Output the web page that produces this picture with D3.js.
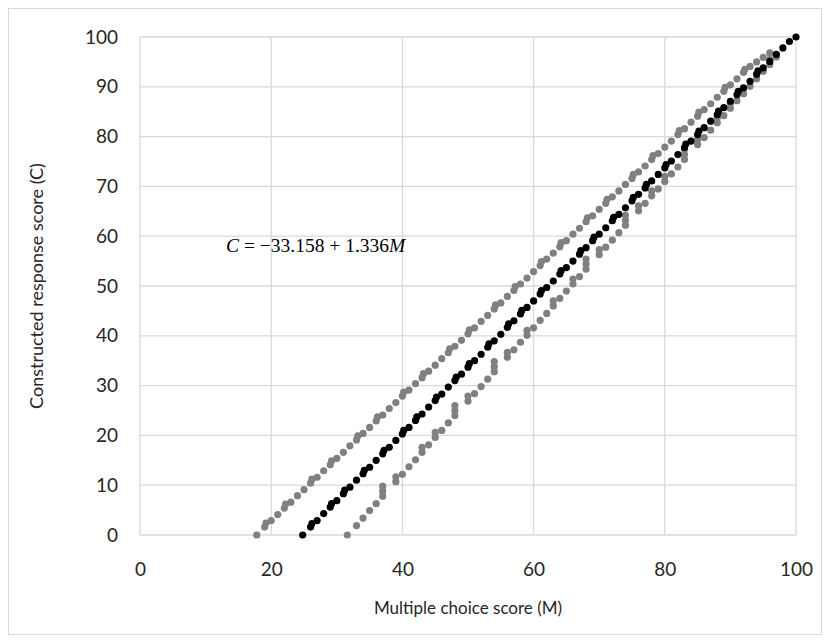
<!DOCTYPE html>
<html lang="en">
	<head>
		<meta charset="utf-8">
		<title>Constructed vs multiple choice score</title>
		<style>
			body { margin: 0; background: #fff; }
			.tick text { font: 19px Lato, "Open Sans", sans-serif; fill: #262626; }
			.lbl { font: 17px Lato, "Open Sans", sans-serif; fill: #262626; }
			.eq { font: 19.5px "Liberation Serif", "DejaVu Serif", serif; fill: #000; }
		</style>
	</head>
	<body>
		<svg class="chart"></svg>
		<script src="https://d3js.org/d3.v7.min.js"></script>
		<script>

			// tick labels
			var xTicks = [0, 20, 40, 60, 80, 100];
			var yTicks = [0, 10, 20, 30, 40, 50, 60, 70, 80, 90, 100];

			// middle (black) series: [M, C]
			var fitted = [[24.8,0],[26,1.6],[26.2,2.3],[27,2.9],[28,4.3],[29,5.6],[29.2,6.3],[30,6.9],[31,8.3],[31.2,9.0],
				[32,9.6],[33,11.0],[34,12.3],[34.2,13.0],[35,13.6],[36,15.0],[37,16.3],[37.2,17.0],[38,17.6],[39,19.0],
				[40,20.3],[40.2,21.0],[41,21.6],[42,23.0],[42.2,23.7],[43,24.3],[44,25.7],[45,27.0],[45.2,27.7],[46,28.3],
				[47,29.7],[48,31.0],[48.2,31.7],[49,32.3],[50,33.7],[50.2,34.4],[51,35.0],[52,36.3],[53,37.7],[53.2,38.4],
				[54,39.0],[55,40.3],[56,41.7],[56.2,42.4],[57,43.0],[58,44.4],[58.2,45.1],[59,45.7],[60,47.0],[61,48.4],
				[61.2,49.1],[62,49.7],[63,51.0],[64,52.4],[64.2,53.1],[65,53.7],[66,55.0],[67,56.4],[67.2,57.1],[68,57.7],
				[69,59.1],[69.2,59.8],[70,60.4],[71,61.7],[72,63.1],[72.2,63.8],[73,64.4],[74,65.7],[75,67.1],[75.2,67.8],
				[76,68.4],[77,69.7],[77.2,70.4],[78,71.1],[79,72.4],[80,73.7],[80.2,74.4],[81,75.1],[82,76.4],[83,77.8],
				[83.2,78.5],[84,79.1],[85,80.4],[85.2,81.1],[86,81.8],[87,83.1],[88,84.4],[88.2,85.1],[89,85.8],[90,87.1],
				[91,88.4],[91.2,89.1],[92,89.8],[93,91.1],[94,92.5],[94.2,93.2],[95,93.8],[96,95.1],[97,96.5],[98,97.8],
				[99,99.1],[100,100]];

			// upper (grey) band: [M, C]
			var upper = [[17.8,0],[19,1.6],[19.2,2.4],[20,2.9],[21,4.1],[22,5.4],[22.2,6.2],[23,6.6],[24,7.9],[25,9.1],
				[26,10.4],[26.2,11.2],[27,11.6],[28,12.9],[29,14.1],[29.2,14.9],[30,15.4],[31,16.6],[32,17.9],[33,19.1],
				[33.2,19.9],[34,20.4],[35,21.6],[36,22.9],[36.2,23.7],[37,24.1],[38,25.4],[39,26.6],[40,27.9],[40.2,28.7],
				[41,29.1],[42,30.4],[43,31.6],[43.2,32.4],[44,32.9],[45,34.1],[46,35.4],[47,36.6],[47.2,37.4],[48,37.9],
				[49,39.1],[50,40.4],[50.2,41.2],[51,41.6],[52,42.9],[53,44.1],[54,45.4],[54.2,46.2],[55,46.6],[56,47.9],
				[57,49.1],[57.2,49.9],[58,50.4],[59,51.6],[60,52.9],[61,54.1],[61.2,54.9],[62,55.4],[63,56.6],[64,57.9],
				[64.2,58.7],[65,59.1],[66,60.4],[67,61.6],[68,62.9],[68.2,63.7],[69,64.1],[70,65.4],[71,66.6],[71.2,67.4],
				[72,67.9],[73,69.1],[74,70.4],[75,71.6],[75.2,72.4],[76,72.9],[77,74.1],[78,75.4],[78.2,76.2],[79,76.6],
				[80,77.9],[81,79.1],[82,80.4],[82.2,81.2],[83,81.6],[84,82.9],[85,84.1],[85.2,84.9],[86,85.4],[87,86.6],
				[88,87.9],[89,89.1],[89.2,89.9],[90,90.4],[91,91.6],[92,92.9],[92.2,93.5],[93,94.1],[94,95.0],[95,95.9],
				[96,96.8]];

			// lower (grey) band: [M, C]
			var lower = [[31.6,0],[33,1.9],[34,3.4],[35,4.9],[36,6.3],[37,7.8],[37,8.8],[37,9.8],[39,10.7],[39,11.7],
				[40,12.2],[41,13.7],[42,15.1],[43,16.6],[43,17.6],[44,18.1],[45,19.6],[45,20.6],[46,21.0],[47,22.5],
				[48,24.0],[48,25.0],[48,26.0],[50,26.9],[50,27.9],[51,28.4],[52,29.8],[53,31.3],[54,32.8],[54,33.8],
				[54,34.8],[56,35.7],[56,36.7],[57,37.2],[58,38.7],[59,40.1],[59,41.1],[60,41.6],[61,43.1],[62,44.5],
				[63,46.0],[63,47.0],[64,47.5],[65,49.0],[66,50.4],[66,51.4],[67,51.9],[68,53.4],[68,54.4],[68,55.4],
				[70,56.3],[70,57.3],[71,57.8],[72,59.2],[73,60.7],[74,62.2],[74,63.2],[74,64.2],[76,65.1],[76,66.1],
				[77,66.6],[78,68.1],[78,69.1],[79,69.5],[80,71.0],[80,72.0],[81,72.5],[82,73.9],[83,75.4],[83,76.4],
				[83,77.4],[85,78.4],[85,79.4],[86,79.8],[87,81.3],[88,82.8],[88,83.8],[89,84.2],[90,85.7],[90,86.7],
				[91,87.2],[92,88.6],[92,89.6],[93,90.1],[94,91.6],[94,92.6],[95,93.1],[96,94.5],[96,95.5],[97,96.0]];

			var width = 830, height = 643;
			var margin = {left: 140, right: 34, top: 37, bottom: 108};

			var svg = d3.select(".chart").attr("width", width).attr("height", height);

			// outer chart border
			svg.append("rect")
				.attr("x", 8.5).attr("y", 8.5)
				.attr("width", width - 17).attr("height", height - 17)
				.attr("fill", "#fff").attr("stroke", "#d9d9d9");

			var x = d3.scaleLinear().domain([0, 100]).range([margin.left, width - margin.right]);
			var y = d3.scaleLinear().domain([0, 100]).range([height - margin.bottom, margin.top]);

			// gridlines
			svg.append("g").selectAll("line").data(yTicks).enter().append("line")
				.attr("x1", x(0)).attr("x2", x(100))
				.attr("y1", function(d) { return y(d); }).attr("y2", function(d) { return y(d); })
				.attr("stroke", "#d9d9d9").attr("stroke-width", 1.3);
			svg.append("g").selectAll("line").data(xTicks).enter().append("line")
				.attr("y1", y(0)).attr("y2", y(100))
				.attr("x1", function(d) { return x(d); }).attr("x2", function(d) { return x(d); })
				.attr("stroke", "#d9d9d9").attr("stroke-width", 1.3);

			// axes (labels only, lines drawn as grid)
			var xAxis = svg.append("g")
				.attr("transform", "translate(0," + y(0) + ")")
				.call(d3.axisBottom(x).tickValues(xTicks).tickSize(0).tickPadding(28));
			var yAxis = svg.append("g")
				.attr("transform", "translate(" + x(0) + ",0)")
				.call(d3.axisLeft(y).tickValues(yTicks).tickSize(0).tickPadding(22));
			xAxis.select(".domain").remove();
			yAxis.select(".domain").remove();

			// points
			function dots(data, colour) {
				svg.append("g").selectAll("circle").data(data).enter().append("circle")
					.attr("cx", function(d) { return x(d[0]); })
					.attr("cy", function(d) { return y(d[1]); })
					.attr("r", 3.6)
					.attr("fill", colour);
			}
			dots(upper, "#808080");
			dots(lower, "#808080");
			dots(fitted, "#000");

			// equation
			var eq = svg.append("text").attr("class", "eq").attr("x", 226).attr("y", 252);
			eq.append("tspan").style("font-style", "italic").text("C");
			eq.append("tspan").text(" = \u221233.158 + 1.336");
			eq.append("tspan").style("font-style", "italic").text("M");

			// axis titles
			svg.append("text").attr("class", "lbl")
				.attr("x", (x(0) + x(100)) / 2).attr("y", 614)
				.attr("text-anchor", "middle")
				.text("Multiple choice score (M)");
			svg.append("text").attr("class", "lbl")
				.attr("transform", "translate(43," + (y(50)) + ") rotate(-90)")
				.attr("text-anchor", "middle")
				.style("font-size", "18px")
				.text("Constructed response score (C)");

		</script>
	</body>
</html>
